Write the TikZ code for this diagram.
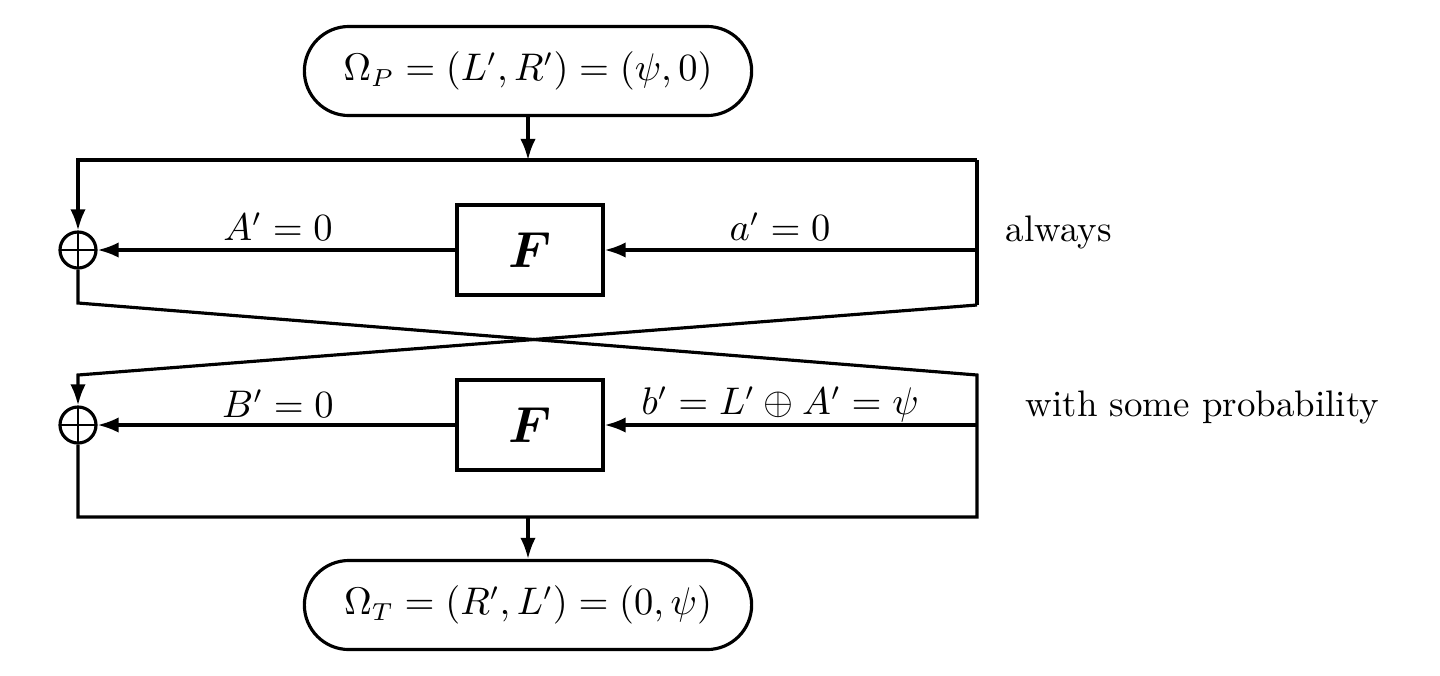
\documentclass[tikz,border=0pt]{standalone}
\usepackage{amsmath,amssymb,bm}
\usetikzlibrary{shapes.misc,arrows.meta}
\begin{document}
\begin{tikzpicture}[x=0.01cm,y=-0.01cm,
  every node/.style={font=\fontsize{10.5}{12}\selectfont},
  ln/.style={line width=0.9pt, line join=miter},
  arr/.style={ln,-{Latex[length=6pt,width=4.4pt]}},
  termbox/.style={draw,line width=0.9pt,rounded rectangle,minimum width=4.47cm,minimum height=0.89cm,inner sep=0pt},
  fbox/.style={draw,line width=0.9pt,minimum width=1.46cm,minimum height=0.9cm,inner sep=0pt,font=\Large},
  xorc/.style={draw,line width=0.9pt,circle,minimum size=0.36cm,inner sep=0pt,
    path picture={\draw[line width=0.7pt] (path picture bounding box.north) -- (path picture bounding box.south)
      (path picture bounding box.west) -- (path picture bounding box.east);}},
  lbl/.style={inner sep=1pt},
  side/.style={anchor=west,inner sep=0pt}]
\useasboundingbox (0,0) rectangle (1440,675);

\node[termbox] (top) at (528,71) {$\Omega_P=(L',R')=(\psi,0)$};
\node[termbox] (bot) at (528,605) {$\Omega_T=(R',L')=(0,\psi)$};
\node[fbox] (F1) at (530,250) {$\bm{F}$};
\node[fbox] (F2) at (530,425) {$\bm{F}$};
\node[xorc] (x1) at (78,250) {};
\node[xorc] (x2) at (78,425) {};

\coordinate (m1) at (528,160);
\coordinate (m2) at (528,517);
\coordinate (c1tl) at (78,160);
\coordinate (c1tr) at (977,160);
\coordinate (c1br) at (977,305);
\coordinate (c1bl) at (78,303);
\coordinate (c2tl) at (78,375);
\coordinate (c2tr) at (977,375);
\coordinate (c2br) at (977,517);
\coordinate (c2bl) at (78,517);
\coordinate (in1) at (977,250);
\coordinate (in2) at (977,425);

\draw[arr] (top.south) -- (m1);
\draw[arr] (c1tr) -- (c1tl) -- (x1.north);
\draw[ln] (c1tr) -- (c1br);
\draw[arr] (c1br) -- (c2tl) -- (x2.north);
\draw[ln] (x1.south) -- (c1bl) -- (c2tr) -- (c2br) -- (c2bl) -- (x2.south);
\draw[arr] (in1) -- (F1.east);
\draw[arr] (F1.west) -- (x1.east);
\draw[arr] (in2) -- (F2.east);
\draw[arr] (F2.west) -- (x2.east);
\draw[arr] (m2) -- (bot.north);

\node[lbl] (lA) at (278,227) {$A'=0$};
\node[lbl] (la) at (780,227) {$a'=0$};
\node[lbl] (lB) at (278,404) {$B'=0$};
\node[lbl] (lb) at (780,404) {$b'=L'\oplus A'=\psi$};
\node[side] (s1) at (1005,232) {always};
\node[side] (s2) at (1025,407) {with some probability};
\end{tikzpicture}
\end{document}
